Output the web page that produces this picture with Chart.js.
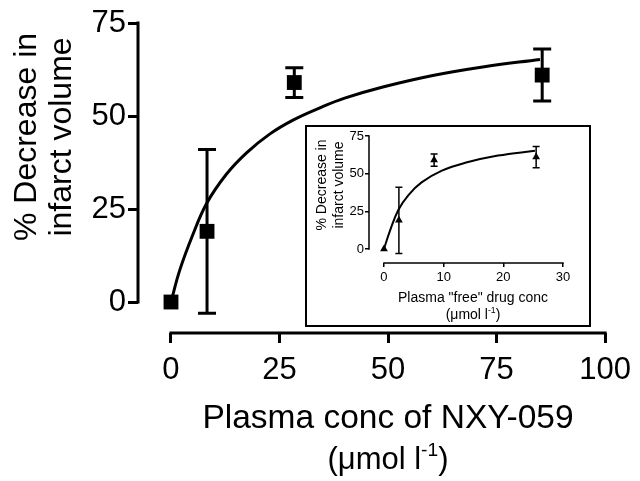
<!DOCTYPE html>
<html>
<head>
<meta charset="utf-8">
<script src="https://cdn.jsdelivr.net/npm/chart.js@4.4.0/dist/chart.umd.min.js"></script>
<style>
  html, body { margin: 0; padding: 0; background: #fff; }
  #wrap { position: relative; width: 640px; height: 481px; overflow: hidden; }
  #main { position: absolute; left: 0; top: 0; }
  #caixaInset { position: absolute; left: 305px; top: 125px; width: 282px; height: 198px; border: 2px solid #000; background: #fff; }
  #inset { display: block; }
</style>
</head>
<body>
<div id="wrap">
  <canvas id="main" width="640" height="481"></canvas>
  <div id="caixaInset"><canvas id="inset" width="282" height="198"></canvas></div>
</div>
<script>
// --- DADOS: grafico principal (concentracao total) ---
const concPlasma = [0, 8.3, 28.4, 85.5];
const reducaoMedia = [0, 19, 59, 61];
const reducaoErro = [0, 22, 4, 7];
// curva ajustada
const curvaX = [0, 2, 5, 8.2, 12.8, 17.4, 22.8, 28.1, 34.3, 40, 48.8, 60.3, 71.8, 85];
const curvaY = [0, 8.5, 18, 26.5, 34.4, 40.1, 45.2, 48.9, 52.2, 54.8, 57.8, 60.9, 63.2, 65.2];
const ticksX = [0, 25, 50, 75, 100];
const ticksY = [0, 25, 50, 75];

// --- DADOS: inset (concentracao "livre") ---
const concLivre = [0, 2.5, 8.4, 25.5];
const reducaoLivre = [0, 19, 59, 61];
const erroLivre = [0, 22, 4, 7];
const curvaLivreX = [0, 1, 2.4, 4.1, 6.3, 9.7, 13.6, 19.1, 25.3];
const curvaLivreY = [0, 12, 25.9, 35.8, 44.2, 52, 57.2, 62, 65.2];
const ticksLivreX = [0, 10, 20, 30];
const ticksLivreY = [0, 25, 50, 75];

const FONTE = "'Liberation Sans', Arial, Helvetica, sans-serif";

function pares(xs, ys) { return xs.map((x, i) => ({ x: x, y: ys[i] })); }

// barras de erro desenhadas com as escalas do proprio chart
const barrasErro = {
  id: 'barrasErro',
  beforeDatasetsDraw(chart, args, o) {
    const ctx = chart.ctx, x = chart.scales.x, y = chart.scales.y;
    ctx.save();
    ctx.strokeStyle = '#000';
    ctx.lineWidth = o.largura;
    o.xs.forEach((xv, i) => {
      const e = o.erros[i];
      if (!e) return;
      const px = x.getPixelForValue(xv);
      const topo = y.getPixelForValue(o.ys[i] + e);
      const base = y.getPixelForValue(o.ys[i] - e);
      ctx.beginPath();
      ctx.moveTo(px, topo); ctx.lineTo(px, base);
      ctx.moveTo(px - o.cap, topo); ctx.lineTo(px + o.cap, topo);
      ctx.moveTo(px - o.cap, base); ctx.lineTo(px + o.cap, base);
      ctx.stroke();
    });
    ctx.restore();
  }
};

// linhas dos eixos (destacadas, so do primeiro ao ultimo tick)
const eixos = {
  id: 'eixos',
  afterDraw(chart, args, o) {
    const ctx = chart.ctx, x = chart.scales.x, y = chart.scales.y, area = chart.chartArea;
    const h = o.largura / 2;
    ctx.save();
    ctx.strokeStyle = '#000';
    ctx.lineWidth = o.largura;
    ctx.beginPath();
    ctx.moveTo(area.left, y.getPixelForValue(o.yTicks[0]) + h);
    ctx.lineTo(area.left, y.getPixelForValue(o.yTicks[o.yTicks.length - 1]) - h);
    ctx.moveTo(x.getPixelForValue(o.xTicks[0]) - h, area.bottom);
    ctx.lineTo(x.getPixelForValue(o.xTicks[o.xTicks.length - 1]) + h, area.bottom);
    ctx.stroke();
    ctx.restore();
  }
};

// linha de texto com partes sobrescritas
function desenharLinha(ctx, partes, cy, tam) {
  const medidas = partes.map(p => {
    ctx.font = (p.sup ? tam * 0.62 : tam) + 'px ' + FONTE;
    return ctx.measureText(p.t).width;
  });
  let px = -medidas.reduce((a, b) => a + b, 0) / 2;
  partes.forEach((p, i) => {
    ctx.font = (p.sup ? tam * 0.62 : tam) + 'px ' + FONTE;
    ctx.fillText(p.t, px, cy - (p.sup ? tam * 0.42 : 0));
    px += medidas[i];
  });
}

const titulos = {
  id: 'titulos',
  afterDraw(chart, args, o) {
    const ctx = chart.ctx;
    o.itens.forEach(it => {
      ctx.save();
      ctx.translate(it.x, it.y);
      if (it.rot) ctx.rotate(-Math.PI / 2);
      ctx.fillStyle = '#000';
      ctx.textAlign = 'left';
      ctx.textBaseline = 'alphabetic';
      it.linhas.forEach((l, i) => desenharLinha(ctx, l, i * it.lh, it.tams[i]));
      ctx.restore();
    });
  }
};

function escala(min, max, ticks, tam, tickLen, larg, pad, fit) {
  return {
    type: 'linear', min: min, max: max,
    afterBuildTicks: s => { s.ticks = ticks.map(v => ({ value: v })); },
    afterFit: fit,
    grid: { drawOnChartArea: false, drawTicks: true, tickLength: tickLen, lineWidth: larg, color: '#000' },
    border: { display: false },
    ticks: { color: '#000', padding: pad, maxRotation: 0, autoSkip: false, font: { family: FONTE, size: tam } }
  };
}

// --- GRAFICO PRINCIPAL ---
new Chart(document.getElementById('main'), {
  type: 'scatter',
  data: {
    datasets: [
      { type: 'line', data: pares(curvaX, curvaY), borderColor: '#000', borderWidth: 3, pointRadius: 0,
        tension: 0.4, fill: false, clip: false },
      { data: pares(concPlasma, reducaoMedia), pointStyle: 'rect', pointRadius: 10.5,
        backgroundColor: '#000', borderWidth: 0, clip: false }
    ]
  },
  options: {
    responsive: false, animation: false,
    layout: { padding: { top: 23, right: 34, left: 0, bottom: 0 } },
    scales: {
      x: escala(-7.6, 100, ticksX, 31, 10, 3, 9, s => { s.height = 148; }),
      y: escala(-8.33, 75, ticksY, 31, 10, 3, 2, s => { s.width = 138; })
    },
    plugins: {
      legend: { display: false }, tooltip: { enabled: false },
      barrasErro: { xs: concPlasma, ys: reducaoMedia, erros: reducaoErro, cap: 9, largura: 3 },
      eixos: { xTicks: ticksX, yTicks: ticksY, largura: 3 },
      titulos: { itens: [
        { x: 36, y: 137, rot: true, lh: 35, tams: [32, 32],
          linhas: [[{ t: '% Decrease in' }], [{ t: 'infarct volume' }]] },
        { x: 388, y: 428, rot: false, lh: 41, tams: [33.5, 31],
          linhas: [[{ t: 'Plasma conc of NXY-059' }], [{ t: '(\u03bcmol l' }, { t: '-1', sup: true }, { t: ')' }]] }
      ] }
    }
  },
  plugins: [barrasErro, eixos, titulos]
});

// --- INSET ---
new Chart(document.getElementById('inset'), {
  type: 'scatter',
  data: {
    datasets: [
      { type: 'line', data: pares(curvaLivreX, curvaLivreY), borderColor: '#000', borderWidth: 2, pointRadius: 0,
        tension: 0.4, fill: false, clip: false },
      { data: pares(concLivre, reducaoLivre), pointStyle: 'triangle', pointRadius: 4.5,
        backgroundColor: '#000', borderWidth: 0, clip: false }
    ]
  },
  options: {
    responsive: false, animation: false,
    layout: { padding: { top: 9, right: 26, left: 0, bottom: 0 } },
    scales: {
      x: escala(-2.51, 30, ticksLivreX, 13, 4, 1.5, 3, s => { s.height = 62; }),
      y: escala(-9.3, 75, ticksLivreY, 13, 4, 1.5, 1, s => { s.width = 62; })
    },
    plugins: {
      legend: { display: false }, tooltip: { enabled: false },
      barrasErro: { xs: concLivre, ys: reducaoLivre, erros: erroLivre, cap: 3.5, largura: 1.5 },
      eixos: { xTicks: ticksLivreX, yTicks: ticksLivreY, largura: 1.5 },
      titulos: { itens: [
        { x: 19, y: 58, rot: true, lh: 17, tams: [14, 14],
          linhas: [[{ t: '% Decrease in' }], [{ t: 'infarct volume' }]] },
        { x: 166, y: 175, rot: false, lh: 17, tams: [14, 14],
          linhas: [[{ t: 'Plasma "free" drug conc' }], [{ t: '(\u03bcmol l' }, { t: '-1', sup: true }, { t: ')' }]] }
      ] }
    }
  },
  plugins: [barrasErro, eixos, titulos]
});
</script>
</body>
</html>
